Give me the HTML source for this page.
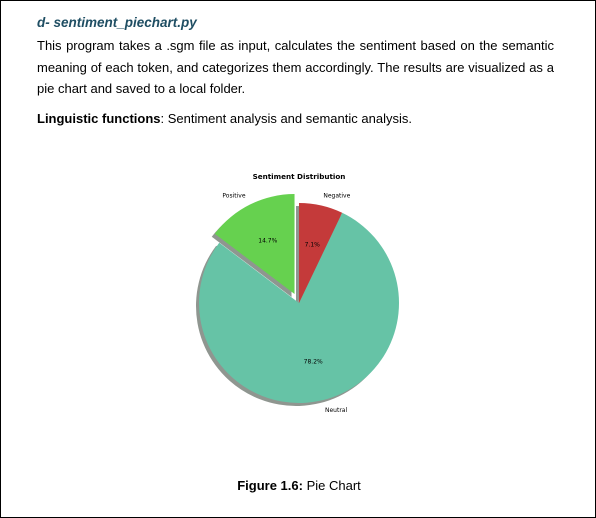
<!DOCTYPE html>
<html><head><meta charset="utf-8">
<style>
html,body{margin:0;padding:0;background:#fff;}
#page{position:relative;width:594px;height:516px;border:1px solid #000;overflow:hidden;font-family:"Liberation Sans",Arial,sans-serif;color:#000;}
.abs{position:absolute;}
#title{left:36px;top:14px;font-size:13.5px;font-weight:bold;font-style:italic;color:#1f4e63;}
#desc{left:36px;top:34px;width:517px;font-size:13px;line-height:21.5px;text-align:justify;text-align-last:left;}
#ling{left:36px;top:110px;font-size:13px;}
#caption{left:0;width:596px;top:477px;text-align:center;font-size:13px;}
svg{position:absolute;left:0;top:0;}
</style></head>
<body>
<div id="page">
<div class="abs" id="title">d- sentiment_piechart.py</div>
<div class="abs" id="desc">This program takes a .sgm file as input, calculates the sentiment based on the semantic meaning of each token, and categorizes them accordingly. The results are visualized as a pie chart and saved to a local folder.</div>
<div class="abs" id="ling"><b>Linguistic functions</b>: Sentiment analysis and semantic analysis.</div>
<svg id="chart" width="596" height="518"></svg>
<div class="abs" id="caption"><b>Figure 1.6:</b> Pie Chart</div>
</div>
<script>
const categories = ["Positive", "Neutral", "Negative"];
const values = [14.7, 78.2, 7.1];
const pctLabels = ["14.7%", "78.2%", "7.1%"];
const explodeVals = [0.1, 0, 0];
const colors = ["#66d14f", "#66c3a6", "#c43a3a"];

const svg = document.getElementById('chart');
const NS = 'http://www.w3.org/2000/svg';
const cx = 298, cy = 302, R = 100;
const total = values.reduce((a,b)=>a+b,0);
function pt(x,y,r,deg){const a=deg*Math.PI/180;return [x+r*Math.cos(a), y-r*Math.sin(a)];}
function wedgePath(x,y,a0,a1){
  const p0=pt(x,y,R,a0), p1=pt(x,y,R,a1);
  const large=(a1-a0)>180?1:0;
  return `M${x},${y} L${p0[0]},${p0[1]} A${R},${R} 0 ${large} 0 ${p1[0]},${p1[1]} Z`;
}
const t = document.createElementNS(NS,'text');


t.setAttribute('x',cx);t.setAttribute('y',178);t.setAttribute('text-anchor','middle');
t.setAttribute('font-family','DejaVu Sans, sans-serif');t.setAttribute('font-size','7.2');t.setAttribute('font-weight','bold');
t.textContent='Sentiment Distribution';svg.appendChild(t);

let start = 90;
const geo = [];
values.forEach((v,i)=>{
  const sweep = v/total*360;
  const mid = start + sweep/2;
  const off = pt(0,0,explodeVals[i]*R,mid);
  geo.push({a0:start,a1:start+sweep,mid,x:cx+off[0],y:cy+off[1]});
  start += sweep;
});
geo.forEach((g,i)=>{
  const s=document.createElementNS(NS,'path');
  
  
  s.setAttribute('d',wedgePath(g.x-3,g.y+3,g.a0,g.a1));
  s.setAttribute('fill','#8f9690');
  svg.appendChild(s);
});
geo.forEach((g,i)=>{
  const p=document.createElementNS(NS,'path');
  
  
  p.setAttribute('d',wedgePath(g.x,g.y,g.a0,g.a1));
  p.setAttribute('fill',colors[i]);
  svg.appendChild(p);
  const lp=pt(g.x,g.y,R*1.1,g.mid);
  const l=document.createElementNS(NS,'text');
  
  
  l.setAttribute('x',lp[0]);l.setAttribute('y',lp[1]+2);
  l.setAttribute('text-anchor',lp[0]<g.x-1?'end':'start');
  l.setAttribute('font-family','DejaVu Sans, sans-serif');l.setAttribute('font-size','6');
  l.textContent=categories[i];svg.appendChild(l);
  const pp=pt(g.x,g.y,R*0.6,g.mid);
  const q=document.createElementNS(NS,'text');
  
  
  q.setAttribute('x',pp[0]);q.setAttribute('y',pp[1]+2);q.setAttribute('text-anchor','middle');
  q.setAttribute('font-family','DejaVu Sans, sans-serif');q.setAttribute('font-size','6');
  q.textContent=pctLabels[i];svg.appendChild(q);
});
</script>
</body></html>
